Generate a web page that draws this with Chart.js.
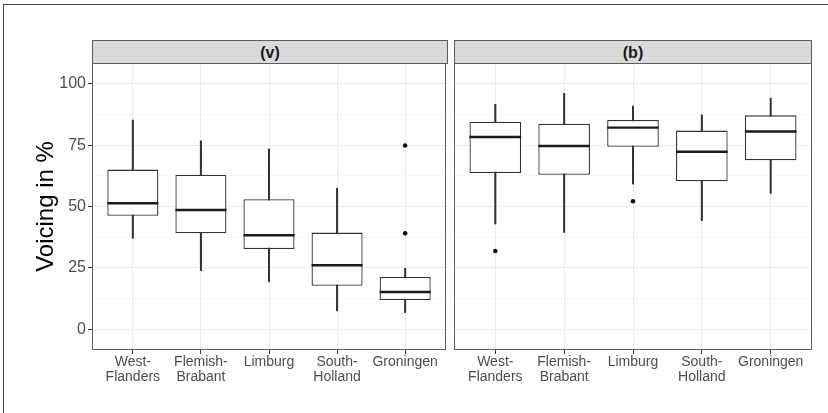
<!DOCTYPE html>
<html>
<head>
<meta charset="utf-8">
<script src="https://cdn.jsdelivr.net/npm/chart.js@4.4.1/dist/chart.umd.min.js"></script>
<style>
  html, body { margin: 0; padding: 0; background: #fff; }
  #wrap { position: relative; width: 828px; height: 413px; overflow: hidden; background: #fff;
          font-family: "Liberation Sans", Arial, Helvetica, sans-serif; }
  #frame { position: absolute; left: 3px; top: 4px; width: 840px; height: 420px;
           border-top: 1.5px solid #444; border-left: 1.5px solid #444; }
  canvas { position: absolute; top: 0; }
  .strip { position: absolute; top: 40px; height: 24px; box-sizing: border-box;
           background: #d9d9d9; border: 1px solid #5c5c5c; text-align: center;
           font-weight: bold; font-size: 16px; line-height: 24px; color: #1a1a1a; }
</style>
</head>
<body>
<div id="wrap">
  <div id="frame"></div>
  <canvas id="cv" width="450" height="413" style="left:0;width:450px;height:413px"></canvas>
  <canvas id="cb" width="378" height="413" style="left:450px;width:378px;height:413px"></canvas>
  <div class="strip" style="left:92px;width:356px">(v)</div>
  <div class="strip" style="left:454px;width:358px">(b)</div>
</div>
<script>
// Regions along the x axis (two-line tick labels)
const categories = ['West-Flanders', 'Flemish-Brabant', 'Limburg', 'South-Holland', 'Groningen'];
const xTickLabels = [['West-', 'Flanders'], ['Flemish-', 'Brabant'], 'Limburg', ['South-', 'Holland'], 'Groningen'];
const yTicks = [0, 25, 50, 75, 100];
const yMinorTicks = [12.5, 37.5, 62.5, 87.5];

// (v): five-number summaries per region
const vLow    = [37.1, 23.9, 19.4,  7.5,  6.8];
const vQ1     = [46.3, 39.1, 32.7, 17.7, 11.9];
const vMedian = [51.4, 48.6, 38.3, 26.1, 15.2];
const vQ3     = [65.1, 63.0, 53.0, 39.4, 21.3];
const vHigh   = [85.3, 76.8, 73.5, 57.5, 24.9];
const vOutlierIdx = [4, 4];
const vOutlierVal = [74.9, 39.1];

// (b): five-number summaries per region
const bLow    = [42.9, 39.5, 59.2, 44.3, 55.4];
const bQ1     = [63.7, 63.0, 74.4, 60.3, 68.9];
const bMedian = [78.4, 74.7, 82.2, 72.4, 80.6];
const bQ3     = [84.6, 83.8, 85.3, 81.0, 87.2];
const bHigh   = [91.7, 96.2, 91.0, 87.4, 94.2];
const bOutlierIdx = [0, 2];
const bOutlierVal = [31.9, 52.2];

const FONT = '"Liberation Sans", Arial, Helvetica, sans-serif';
const INK = '#333333';

const panelBorder = {
  id: 'panelBorder',
  afterDraw(chart) {
    const { ctx, chartArea: a } = chart;
    ctx.save();
    ctx.strokeStyle = '#5c5c5c';
    ctx.lineWidth = 1;
    const l = Math.round(a.left), t = Math.round(a.top);
    ctx.strokeRect(l + 0.5, t + 0.5, Math.round(a.right) - l - 1, Math.round(a.bottom) - t - 1);
    ctx.restore();
  }
};

function halfBox(c) {
  const s = c.chart.scales.x;
  return Math.abs(s.getPixelForValue(1) - s.getPixelForValue(0)) * 0.375;
}

function makePanel(canvasId, low, q1, med, q3, high, outIdx, outVal, isFirst, padding) {
  const idx = categories.map((_, i) => i);
  const yTickAll = yTicks.concat(yMinorTicks).sort((a, b) => a - b);
  const isMajor = v => yTicks.includes(v);
  return new Chart(document.getElementById(canvasId), {
    type: 'bar',
    data: {
      datasets: [
        {
          label: 'whisker',
          data: idx.map(i => ({ x: i, y: [low[i], high[i]] })),
          backgroundColor: INK,
          barThickness: 1.4,
          grouped: false,
          order: 3
        },
        {
          label: 'box',
          data: idx.map(i => ({ x: i, y: [q1[i], q3[i]] })),
          backgroundColor: '#ffffff',
          borderColor: INK,
          borderWidth: 1.3,
          borderSkipped: false,
          categoryPercentage: 1,
          barPercentage: 0.75,
          grouped: false,
          order: 2
        },
        {
          type: 'line',
          label: 'median',
          data: idx.map(i => ({ x: i, y: med[i] })),
          showLine: false,
          pointStyle: 'line',
          pointRadius: halfBox,
          pointHoverRadius: halfBox,
          pointBorderColor: '#1a1a1a',
          pointBorderWidth: 2.4,
          order: 1
        },
        {
          type: 'scatter',
          label: 'outlier',
          data: outIdx.map((i, k) => ({ x: i, y: outVal[k] })),
          pointRadius: 2.3,
          pointBackgroundColor: '#111',
          pointBorderColor: '#111',
          pointBorderWidth: 0,
          order: 0
        }
      ]
    },
    options: {
      responsive: false,
      animation: false,
      events: [],
      layout: { padding: padding },
      plugins: { legend: { display: false }, tooltip: { enabled: false } },
      scales: {
        x: {
          type: 'linear',
          min: -0.6,
          max: 4.6,
          offset: false,
          afterBuildTicks: s => { s.ticks = idx.map(v => ({ value: v })); },
          afterFit: s => { s.height = 63; },
          grid: { offset: false, color: '#ebebeb', lineWidth: 1, tickColor: INK, tickLength: 4, tickWidth: 1 },
          border: { display: false },
          ticks: {
            padding: 1,
            autoSkip: false,
            maxRotation: 0,
            color: '#4d4d4d',
            font: { family: FONT, size: 14, lineHeight: 1.07 },
            callback: v => xTickLabels[v]
          }
        },
        y: {
          min: -8.45,
          max: 108.55,
          afterBuildTicks: s => { s.ticks = yTickAll.map(v => ({ value: v })); },
          afterFit: s => { s.width = isFirst ? 92 : 0; },
          grid: {
            color: c => isMajor(c.tick.value) ? '#ebebeb' : '#f3f3f3',
            lineWidth: c => isMajor(c.tick.value) ? 1 : 0.6,
            tickColor: c => isMajor(c.tick.value) ? INK : 'rgba(0,0,0,0)',
            tickLength: 4,
            drawTicks: isFirst
          },
          border: { display: false },
          ticks: {
            display: isFirst,
            padding: 2,
            color: '#4d4d4d',
            font: { family: FONT, size: 16 },
            callback: v => isMajor(v) ? String(v) : ''
          },
          title: {
            display: isFirst,
            text: 'Voicing in %',
            color: '#000',
            font: { family: FONT, size: 24 },
            padding: { top: 32, bottom: 0 }
          }
        }
      }
    },
    plugins: [panelBorder]
  });
}

makePanel('cv', vLow, vQ1, vMedian, vQ3, vHigh, vOutlierIdx, vOutlierVal, true,
  { left: 0, right: 2, top: 63, bottom: 0 });
makePanel('cb', bLow, bQ1, bMedian, bQ3, bHigh, bOutlierIdx, bOutlierVal, false,
  { left: 4, right: 16, top: 63, bottom: 0 });
</script>
</body>
</html>
